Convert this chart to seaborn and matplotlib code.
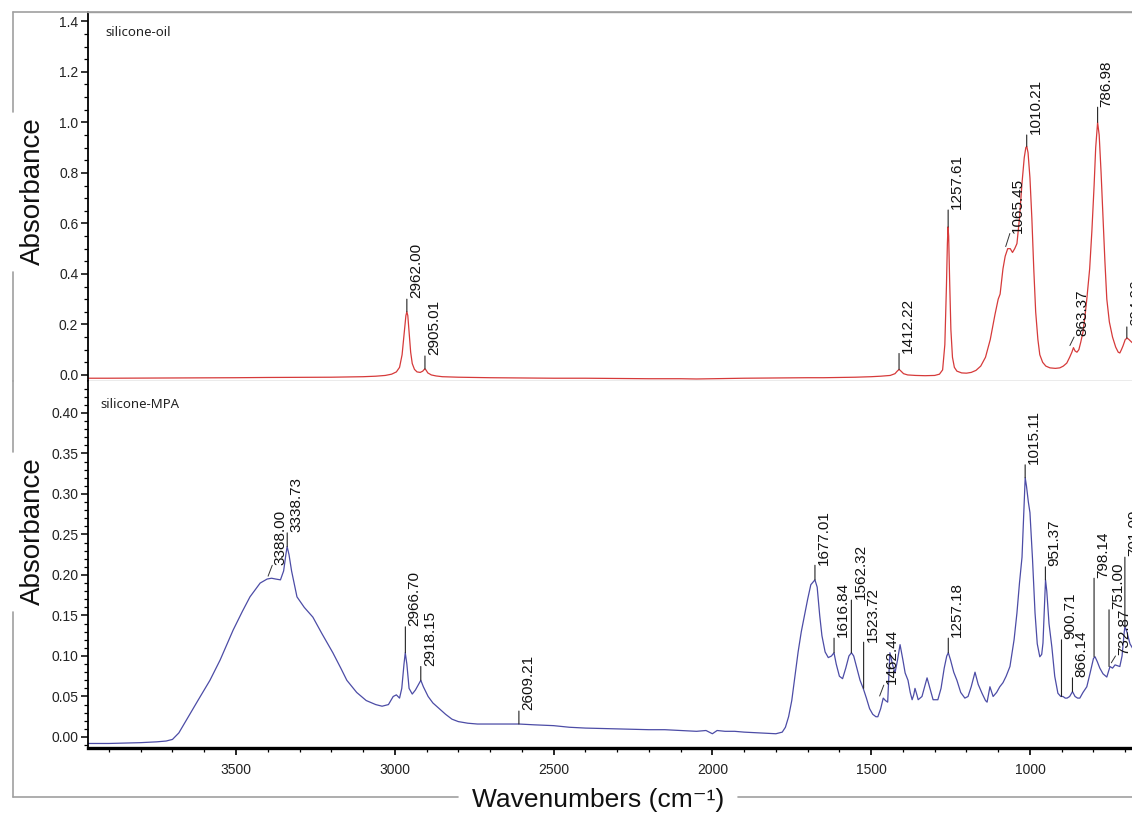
import matplotlib
matplotlib.use("Agg")
import matplotlib.pyplot as plt
import matplotlib.transforms as mtransforms
from matplotlib.lines import Line2D
from matplotlib.ticker import MultipleLocator, FormatStrFormatter
import pandas as pd
import seaborn as sns

# ---------------- data: silicone-oil (top, red) ----------------
oil_wn = [3966, 3900, 3800, 3700, 3600, 3500, 3400, 3300, 3200, 3150, 3100, 3060, 3030,
          3010, 2995, 2985, 2977, 2970, 2965, 2962, 2959, 2955, 2950, 2945, 2938, 2930,
          2920, 2912, 2907, 2905, 2902, 2896, 2885, 2870, 2850, 2800, 2700, 2600, 2500,
          2400, 2300, 2200, 2100, 2050, 2000, 1950, 1900, 1800, 1700, 1650, 1600, 1550,
          1500, 1470, 1440, 1425, 1418, 1412, 1406, 1398, 1385, 1360, 1330, 1300, 1285,
          1275, 1268, 1263, 1260, 1258, 1256, 1253, 1249, 1244, 1238, 1230, 1215, 1200,
          1185, 1170, 1155, 1140, 1125, 1110, 1100, 1094, 1085, 1078, 1070, 1062, 1055,
          1048, 1041, 1033, 1025, 1018, 1013, 1010, 1006, 1000, 994, 988, 982, 975, 969,
          960, 950, 937, 920, 906, 895, 884, 875, 868, 863, 858, 852, 846, 840, 833, 826,
          821, 812, 805, 798, 793, 787, 782, 776, 770, 764, 758, 750, 740, 730, 722, 717,
          712, 707, 700, 694, 688, 680, 670, 650]
oil_abs = [-0.013, -0.013, -0.0125, -0.012, -0.0115, -0.011, -0.010, -0.0095, -0.009,
           -0.008, -0.007, -0.005, -0.002, 0.003, 0.012, 0.03, 0.08, 0.17, 0.235, 0.25,
           0.235, 0.17, 0.09, 0.045, 0.022, 0.012, 0.01, 0.015, 0.022, 0.024, 0.02, 0.008,
           0.0, -0.004, -0.007, -0.009, -0.011, -0.012, -0.013, -0.013, -0.014, -0.015,
           -0.015, -0.016, -0.015, -0.014, -0.013, -0.012, -0.011, -0.011, -0.010, -0.009,
           -0.007, -0.005, -0.002, 0.005, 0.015, 0.022, 0.015, 0.005, 0.0, -0.002, -0.003,
           -0.002, 0.003, 0.02, 0.12, 0.35, 0.52, 0.586, 0.55, 0.38, 0.18, 0.07, 0.03,
           0.015, 0.008, 0.007, 0.01, 0.018, 0.035, 0.07, 0.14, 0.24, 0.30, 0.32, 0.42,
           0.47, 0.50, 0.50, 0.485, 0.50, 0.52, 0.62, 0.76, 0.86, 0.90, 0.905, 0.88, 0.78,
           0.62, 0.42, 0.25, 0.14, 0.08, 0.05, 0.035, 0.028, 0.026, 0.028, 0.035, 0.047,
           0.07, 0.09, 0.108, 0.095, 0.09, 0.10, 0.13, 0.17, 0.24, 0.30, 0.42, 0.57, 0.75,
           0.90, 1.0, 0.95, 0.80, 0.62, 0.45, 0.30, 0.21, 0.15, 0.11, 0.09, 0.087, 0.10,
           0.115, 0.14, 0.146, 0.14, 0.13, 0.12, 0.11]

oil_peak_wn = [2962.00, 2905.01, 1412.22, 1257.61, 1065.45, 1010.21, 863.37, 786.98, 694.96]
oil_peak_abs = [0.25, 0.024, 0.022, 0.586, 0.50, 0.905, 0.108, 1.0, 0.146]
oil_label_abs = [0.30, 0.075, 0.085, 0.653, 0.56, 0.95, 0.15, 1.06, 0.19]
oil_slanted = [False, False, False, False, True, False, True, False, False]

# ---------------- data: silicone-MPA (bottom, blue) ----------------
mpa_wn = [3966, 3900, 3800, 3750, 3720, 3700, 3680, 3650, 3620, 3582, 3550, 3509, 3480,
          3456, 3424, 3402, 3388, 3375, 3360, 3350, 3343, 3339, 3333, 3325, 3308, 3285,
          3258, 3230, 3195, 3170, 3151, 3120, 3090, 3060, 3040, 3020, 3005, 2995, 2985,
          2978, 2971, 2967, 2962, 2955, 2945, 2935, 2925, 2918, 2910, 2895, 2880, 2860,
          2840, 2820, 2800, 2770, 2740, 2700, 2650, 2609, 2560, 2500, 2450, 2400, 2300,
          2200, 2150, 2100, 2050, 2020, 2000, 1985, 1960, 1930, 1900, 1850, 1800, 1780,
          1770, 1760, 1750, 1740, 1730, 1720, 1710, 1700, 1690, 1677, 1670, 1662, 1655,
          1645, 1635, 1625, 1617, 1610, 1600, 1590, 1580, 1570, 1562, 1555, 1545, 1535,
          1525, 1515, 1505, 1495, 1485, 1479, 1470, 1462, 1455, 1448, 1441, 1433, 1425,
          1417, 1409, 1400, 1393, 1384, 1377, 1371, 1366, 1362, 1356, 1352, 1340, 1324,
          1315, 1305, 1290, 1280, 1270, 1262, 1257, 1250, 1240, 1230, 1218, 1205, 1195,
          1185, 1173, 1163, 1151, 1140, 1135, 1126, 1116, 1105, 1095, 1085, 1075, 1063,
          1050, 1041, 1033, 1025, 1019, 1015, 1011, 1005, 1000, 992, 984, 977, 969, 963,
          959, 955, 951, 947, 940, 931, 922, 912, 903, 896, 889, 883, 875, 866, 858, 850,
          843, 833, 821, 810, 800, 795, 788, 780, 770, 758, 752, 748, 740, 732, 725, 717,
          710, 703, 701, 695, 685, 670, 650]
mpa_abs = [-0.008, -0.008, -0.007, -0.006, -0.005, -0.003, 0.005, 0.025, 0.045, 0.07,
           0.095, 0.132, 0.155, 0.173, 0.19, 0.195, 0.196, 0.195, 0.194, 0.205, 0.225,
           0.235, 0.225, 0.205, 0.173, 0.16, 0.148, 0.128, 0.104, 0.085, 0.07, 0.055,
           0.045, 0.04, 0.038, 0.04, 0.05, 0.052, 0.048, 0.06, 0.09, 0.104, 0.09, 0.06,
           0.053, 0.058, 0.065, 0.07, 0.062, 0.05, 0.042, 0.035, 0.028, 0.022, 0.019,
           0.017, 0.016, 0.016, 0.016, 0.016, 0.015, 0.014, 0.012, 0.011, 0.010, 0.009,
           0.009, 0.008, 0.007, 0.008, 0.004, 0.008, 0.007, 0.007, 0.006, 0.005, 0.004,
           0.006, 0.012, 0.025, 0.045, 0.075, 0.105, 0.13, 0.15, 0.17, 0.188, 0.194, 0.185,
           0.15, 0.125, 0.105, 0.098, 0.10, 0.104, 0.09, 0.075, 0.072, 0.085, 0.10, 0.104,
           0.10, 0.085, 0.07, 0.06, 0.048, 0.035, 0.028, 0.025, 0.025, 0.035, 0.048, 0.045,
           0.043, 0.104, 0.09, 0.079, 0.095, 0.114, 0.095, 0.079, 0.07, 0.055, 0.046, 0.052,
           0.06, 0.052, 0.046, 0.05, 0.073, 0.06, 0.046, 0.046, 0.06, 0.085, 0.10, 0.104,
           0.095, 0.08, 0.07, 0.055, 0.048, 0.05, 0.062, 0.08, 0.065, 0.054, 0.045, 0.043,
           0.062, 0.05, 0.055, 0.062, 0.067, 0.075, 0.087, 0.12, 0.153, 0.19, 0.222, 0.28,
           0.32, 0.31, 0.29, 0.277, 0.22, 0.153, 0.115, 0.099, 0.102, 0.116, 0.155, 0.194,
           0.18, 0.14, 0.111, 0.075, 0.054, 0.05, 0.05, 0.048, 0.048, 0.05, 0.056, 0.05,
           0.048, 0.048, 0.055, 0.062, 0.08, 0.097, 0.099, 0.093, 0.085, 0.078, 0.074,
           0.082, 0.087, 0.085, 0.089, 0.088, 0.087, 0.10, 0.13, 0.136, 0.13, 0.115, 0.105,
           0.10]

mpa_peak_wn = [3388.00, 3338.73, 2966.70, 2918.15, 2609.21, 1677.01, 1616.84, 1562.32,
               1523.72, 1462.44, 1257.18, 1015.11, 951.37, 900.71, 866.14, 798.14, 751.00,
               732.87, 701.09]
mpa_peak_abs = [0.196, 0.235, 0.104, 0.07, 0.016, 0.194, 0.104, 0.104, 0.06, 0.048, 0.104,
                0.32, 0.194, 0.05, 0.056, 0.099, 0.087, 0.089, 0.136]
mpa_label_abs = [0.212, 0.252, 0.136, 0.087, 0.032, 0.212, 0.122, 0.169, 0.117, 0.064,
                 0.122, 0.336, 0.21, 0.12, 0.073, 0.196, 0.157, 0.10, 0.222]
mpa_slanted = [True, False, False, False, False, False, False, False, False, True, False,
               False, False, False, False, False, False, True, False]

oil_df = pd.DataFrame({"wn": oil_wn, "A": oil_abs})
mpa_df = pd.DataFrame({"wn": mpa_wn, "A": mpa_abs})

# ---------------- style ----------------
sns.set_theme(style="ticks")
plt.rcParams["font.family"] = ["Liberation Sans", "DejaVu Sans"]
plt.rcParams["axes.linewidth"] = 1.3

W, H = 1132, 814
fig = plt.figure(figsize=(W / 100, H / 100), dpi=100)


def fx(px):
    return px / W


def fy(py):
    return 1 - py / H


ax_top = fig.add_axes([fx(88), fy(381), fx(1150) - fx(88), fy(12) - fy(381)])
ax_bot = fig.add_axes([fx(88), fy(748), fx(1150) - fx(88), fy(381) - fy(748)])

sns.lineplot(data=oil_df, x="wn", y="A", ax=ax_top, color="#d63a3a", lw=0.9,
             sort=False, estimator=None)
sns.lineplot(data=mpa_df, x="wn", y="A", ax=ax_bot, color="#4c4ca6", lw=0.9,
             sort=False, estimator=None)

for ax in (ax_top, ax_bot):
    ax.set_xlim(3966, 622)
    ax.set_xlabel("")
    ax.set_ylabel("")
    ax.spines["right"].set_visible(False)
    ax.spines["left"].set_color("black")
    ax.tick_params(axis="y", which="major", direction="out", length=5, width=1.1,
                   labelsize=10, pad=2, colors="black", labelcolor="#222222")
    ax.tick_params(axis="y", which="minor", direction="out", length=3, width=0.9,
                   colors="black")

ax_top.set_ylim(-0.024, 1.437)
ax_top.yaxis.set_major_locator(MultipleLocator(0.2))
ax_top.yaxis.set_minor_locator(MultipleLocator(0.05))
ax_top.yaxis.set_major_formatter(FormatStrFormatter("%.1f"))
ax_top.set_xticks([])
ax_top.spines["top"].set_color("#9a9a9a")
ax_top.spines["top"].set_linewidth(1.0)
ax_top.spines["bottom"].set_color("#9a9a9a")
ax_top.spines["bottom"].set_linewidth(1.0)

ax_bot.set_ylim(-0.0136, 0.4395)
ax_bot.yaxis.set_major_locator(MultipleLocator(0.05))
ax_bot.yaxis.set_minor_locator(MultipleLocator(0.01))
ax_bot.yaxis.set_major_formatter(FormatStrFormatter("%.2f"))
ax_bot.xaxis.set_major_locator(MultipleLocator(500))
ax_bot.xaxis.set_minor_locator(MultipleLocator(100))
ax_bot.spines["top"].set_visible(False)
ax_bot.spines["bottom"].set_linewidth(2.4)
ax_bot.spines["bottom"].set_color("black")
ax_bot.tick_params(axis="x", which="major", direction="out", length=5, width=1.2,
                   labelsize=10, pad=6, colors="black", labelcolor="#222222")
ax_bot.tick_params(axis="x", which="minor", direction="out", length=3, width=0.9,
                   colors="black")


def label_peaks(ax, wns, peaks, tops, slanted):
    text_tr = mtransforms.offset_copy(ax.transData, fig=fig, x=1.5, y=0.5, units="points")
    for wn, pk, top, sl in zip(wns, peaks, tops, slanted):
        if sl:
            start_tr = mtransforms.offset_copy(ax.transData, fig=fig, x=-2.5, y=1.5,
                                               units="points")
            end_tr = mtransforms.offset_copy(ax.transData, fig=fig, x=0.5, y=0,
                                             units="points")
            ax.annotate("", xy=(wn, pk), xycoords=start_tr, xytext=(wn, top),
                        textcoords=end_tr,
                        arrowprops=dict(arrowstyle="-", lw=0.7, color="#333333",
                                        shrinkA=0, shrinkB=0))
        else:
            ax.annotate("", xy=(wn, pk), xytext=(wn, top),
                        arrowprops=dict(arrowstyle="-", lw=0.8, color="#222222",
                                        shrinkA=0, shrinkB=0))
        ax.text(wn, top, f"{wn:.2f}", transform=text_tr, rotation=90, ha="left",
                va="bottom", fontsize=11, color="#111111")


label_peaks(ax_top, oil_peak_wn, oil_peak_abs, oil_label_abs, oil_slanted)
label_peaks(ax_bot, mpa_peak_wn, mpa_peak_abs, mpa_label_abs, mpa_slanted)

# panel titles
sans2 = ["Noto Sans", "DejaVu Sans"]
fig.text(fx(105), fy(32), "silicone-oil", fontsize=9.5, family=sans2,
         ha="left", va="center", color="#222222")
fig.text(fx(100), fy(405), "silicone-MPA", fontsize=9.5, family=sans2,
         ha="left", va="center", color="#222222")

# axis titles
fig.text(fx(33), fy(191), "Absorbance", rotation=90, fontsize=20, ha="center",
         va="center", color="#111111")
fig.text(fx(33), fy(531), "Absorbance", rotation=90, fontsize=20, ha="center",
         va="center", color="#111111")
fig.text(fx(598), fy(800), "Wavenumbers (cm⁻¹)", fontsize=19, ha="center",
         va="center", color="#111111")

# outer grey frame (OMNIC style)
frame_c = "#a0a0a0"
segments = [
    ((13, 1132), (12, 12)),
    ((13, 13), (12, 112)),
    ((13, 13), (272, 381)),
    ((13, 13), (381, 452)),
    ((13, 13), (612, 797)),
    ((13, 458), (797, 797)),
    ((738, 1132), (797, 797)),
]
for (x0, x1), (y0, y1) in segments:
    fig.add_artist(Line2D([fx(x0), fx(x1)], [fy(y0), fy(y1)], transform=fig.transFigure,
                          color=frame_c, lw=1.2))

fig.savefig("out.png", dpi=100)
